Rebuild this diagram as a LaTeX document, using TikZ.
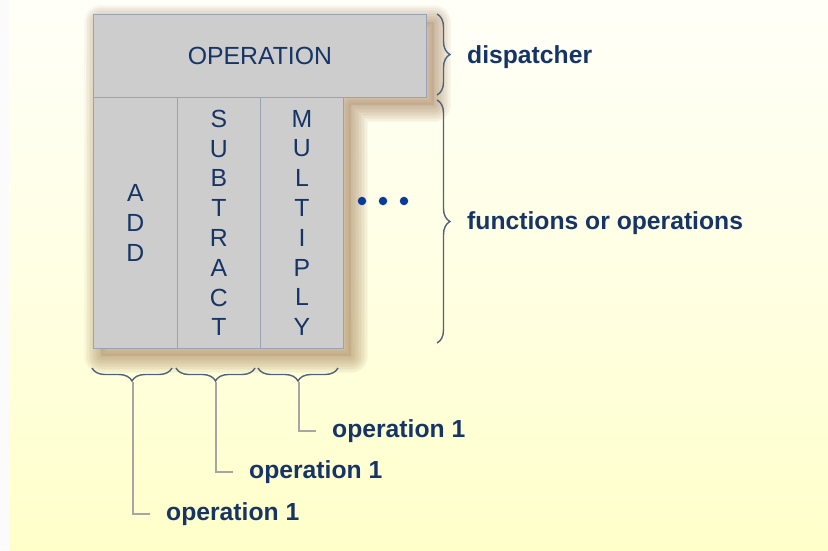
\documentclass[tikz,border=0pt]{standalone}
\usepackage{fontspec}
\setmainfont{Liberation Sans}
\usetikzlibrary{decorations.pathreplacing}
\definecolor{navy}{HTML}{163566}
\definecolor{boxfill}{HTML}{CDCDCD}
\definecolor{boxline}{HTML}{9CA2B6}
\definecolor{bracec}{HTML}{52627A}
\definecolor{leadc}{HTML}{A6A6A6}
\definecolor{dotc}{HTML}{0A3A9A}
\definecolor{bgtop}{HTML}{FFFFF8}
\definecolor{bgbot}{HTML}{FFFFCA}
\definecolor{shadowc}{HTML}{9A7048}
\tikzset{
  opbox/.style={draw=boxline, line width=0.9pt, fill=boxfill, inner sep=0pt, anchor=north west,
    text=navy, font=\fontsize{24.8}{29.8}\selectfont, align=center},
  lbl/.style={text=navy, font=\fontsize{24.7}{28}\selectfont\bfseries, inner sep=0pt, anchor=west},
  rbrace/.style={decorate, decoration={brace, amplitude=13pt}, draw=bracec, line width=1.4pt},
  lead/.style={draw=leadc, line width=2.4pt},
  dotn/.style={circle, fill=dotc, inner sep=0pt, minimum size=8.5pt},
  shadowring/.style={draw=shadowc, line join=round, draw opacity=0.05}
}
\begin{document}
\begin{tikzpicture}[x=1pt,y=-1pt]
\useasboundingbox (0,0) rectangle (828,550);
\fill[white!97!gray] (0,0) rectangle (828,550);
\shade[top color=bgtop, bottom color=bgbot, middle color=bgbot!45!bgtop] (9,0) rectangle (828,550);
% shadow
\foreach \w in {34,31,28,25,22,19,16,13,10,7,4} {
  \draw[shadowring, line width=\w pt, shift={(8,8)}]
    (93,14) -- (426,14) -- (426,97) -- (343,97) -- (343,348) -- (93,348) -- cycle;
}
\fill[shadowc, opacity=0.2, shift={(8,8)}]
    (93,14) -- (426,14) -- (426,97) -- (343,97) -- (343,348) -- (93,348) -- cycle;
% boxes
\node[opbox, minimum width=333pt, minimum height=83pt] (op) at (93,14) {OPERATION};
\node[opbox, minimum width=84pt, minimum height=251pt] (add) at (93,97) {A\\D\\D};
\node[opbox, minimum width=83pt, minimum height=251pt] (sub) at (177,97) {S\\U\\B\\T\\R\\A\\C\\T};
\node[opbox, minimum width=83pt, minimum height=251pt] (mul) at (260,97) {M\\U\\L\\T\\I\\P\\L\\Y};
% dots
\node[dotn] (d1) at (362,201) {};
\node[dotn] (d2) at (383,201) {};
\node[dotn] (d3) at (404,201) {};
% right braces
\draw[rbrace] (437,14) -- (437,95);
\draw[rbrace] (437,100) -- (437,343);
\node[lbl] (disp) at (467,57) {dispatcher};
\node[lbl] (func) at (467,223) {functions or operations};
% bottom braces
\draw[rbrace] (172,368) -- (92,368);
\draw[rbrace] (255,368) -- (176,368);
\draw[rbrace] (338,368) -- (258,368);
\coordinate (t1) at (133,382);
\coordinate (t2) at (216,382);
\coordinate (t3) at (299,382);
\node[lbl] (o1) at (166,514) {operation 1};
\node[lbl] (o2) at (249,472) {operation 1};
\node[lbl] (o3) at (332,431) {operation 1};
\draw[lead] (t1) |- ([xshift=-16pt]o1.west);
\draw[lead] (t2) |- ([xshift=-16pt]o2.west);
\draw[lead] (t3) |- ([xshift=-16pt]o3.west);
\end{tikzpicture}
\end{document}
